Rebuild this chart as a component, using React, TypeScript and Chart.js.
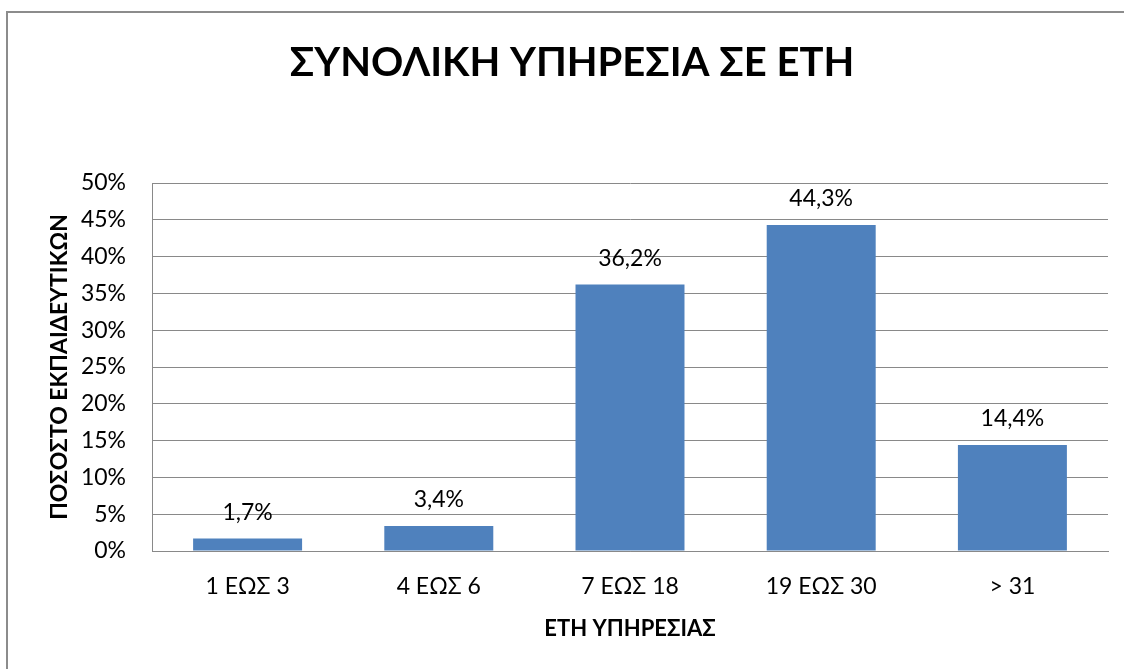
import React, { useEffect, useRef } from "react";
import { Chart, registerables } from "chart.js";

Chart.register(...registerables);

const categories = ["1 ΕΩΣ 3", "4 ΕΩΣ 6", "7 ΕΩΣ 18", "19 ΕΩΣ 30", "> 31"];
const values = [1.7, 3.4, 36.2, 44.3, 14.4];
const chartTitle = "ΣΥΝΟΛΙΚΗ ΥΠΗΡΕΣΙΑ ΣΕ ΕΤΗ";
const xTitle = "ΕΤΗ ΥΠΗΡΕΣΙΑΣ";
const yTitle = "ΠΟΣΟΣΤΟ ΕΚΠΑΙΔΕΥΤΙΚΩΝ";
const yMin = 0;
const yMax = 50;
const yStep = 5;

const FONT = "Lato, 'Open Sans', 'DejaVu Sans', sans-serif";
const GRID = "#898989";
const BAR = "#4F81BD";

const fmt = (v: number) => v.toFixed(1).replace(".", ",") + "%";

const borderPlugin = {
  id: "outerBorder",
  beforeDraw(chart: any) {
    const ctx = chart.ctx;
    ctx.save();
    ctx.fillStyle = "#ffffff";
    ctx.fillRect(0, 0, chart.width, chart.height);
    ctx.strokeStyle = "#8c8c8c";
    ctx.lineWidth = 2;
    ctx.beginPath();
    ctx.moveTo(7, chart.height + 5);
    ctx.lineTo(7, 12);
    ctx.lineTo(chart.width + 5, 12);
    ctx.stroke();
    ctx.restore();
  },
  afterDraw(chart: any) {
    const ctx = chart.ctx;
    ctx.save();
    ctx.fillStyle = "#000000";
    ctx.font = `bold 40px ${FONT}`;
    ctx.textAlign = "center";
    ctx.textBaseline = "middle";
    ctx.fillText(chartTitle, 572, 63);
    ctx.restore();
  },
};

const labelPlugin = {
  id: "barLabels",
  afterDatasetsDraw(chart: any) {
    const ctx = chart.ctx;
    const meta = chart.getDatasetMeta(0);
    ctx.save();
    ctx.fillStyle = "#000000";
    ctx.font = `23px ${FONT}`;
    ctx.textAlign = "center";
    ctx.textBaseline = "middle";
    meta.data.forEach((bar: any, i: number) => {
      ctx.fillText(fmt(values[i]), bar.x, bar.y - 26);
    });
    ctx.restore();
  },
};

export default function App() {
  const ref = useRef<HTMLCanvasElement | null>(null);
  useEffect(() => {
    if (!ref.current) return;
    const chart = new Chart(ref.current, {
      type: "bar",
      data: {
        labels: categories,
        datasets: [
          {
            data: values,
            backgroundColor: BAR,
            borderWidth: 0,
            barPercentage: 0.57,
            categoryPercentage: 1,
          },
        ],
      },
      options: {
        responsive: false,
        animation: false,
        devicePixelRatio: 1,
        layout: { padding: { top: 183, left: 0, right: 16, bottom: 0 } },
        plugins: {
          legend: { display: false },
          tooltip: { enabled: false },
          title: { display: false },
        },
        scales: {
          x: {
            grid: { display: false, drawTicks: false },
            border: { display: true, color: GRID, width: 1 },
            ticks: {
              color: "#000",
              font: { family: FONT, size: 23 },
              padding: 22,
              maxRotation: 0,
            },
            title: {
              display: true,
              text: xTitle,
              color: "#000",
              font: { family: FONT, size: 22, weight: "bold", lineHeight: 1.2 },
              padding: { top: 0, bottom: 27 },
            },
            afterFit(scale: any) {
              scale.height = 118;
            },
          },
          y: {
            min: yMin,
            max: yMax,
            grid: { color: GRID, lineWidth: 1, drawTicks: false },
            border: { display: true, color: GRID, width: 1 },
            ticks: {
              stepSize: yStep,
              color: "#000",
              font: { family: FONT, size: 23 },
              padding: 26,
              callback: (v: any) => `${v}%`,
            },
            title: {
              display: true,
              text: yTitle,
              color: "#000",
              font: { family: FONT, size: 23, weight: "bold", lineHeight: 1.2 },
              padding: { top: 46, bottom: 0 },
            },
            afterFit(scale: any) {
              scale.width = 152;
            },
          },
        },
      },
      plugins: [borderPlugin, labelPlugin],
    } as any);
    return () => chart.destroy();
  }, []);
  return (
    <div style={{ position: "absolute", left: 0, top: 0, width: 1124, height: 669 }}>
      <canvas ref={ref} width={1124} height={669} style={{ display: "block" }} />
    </div>
  );
}
